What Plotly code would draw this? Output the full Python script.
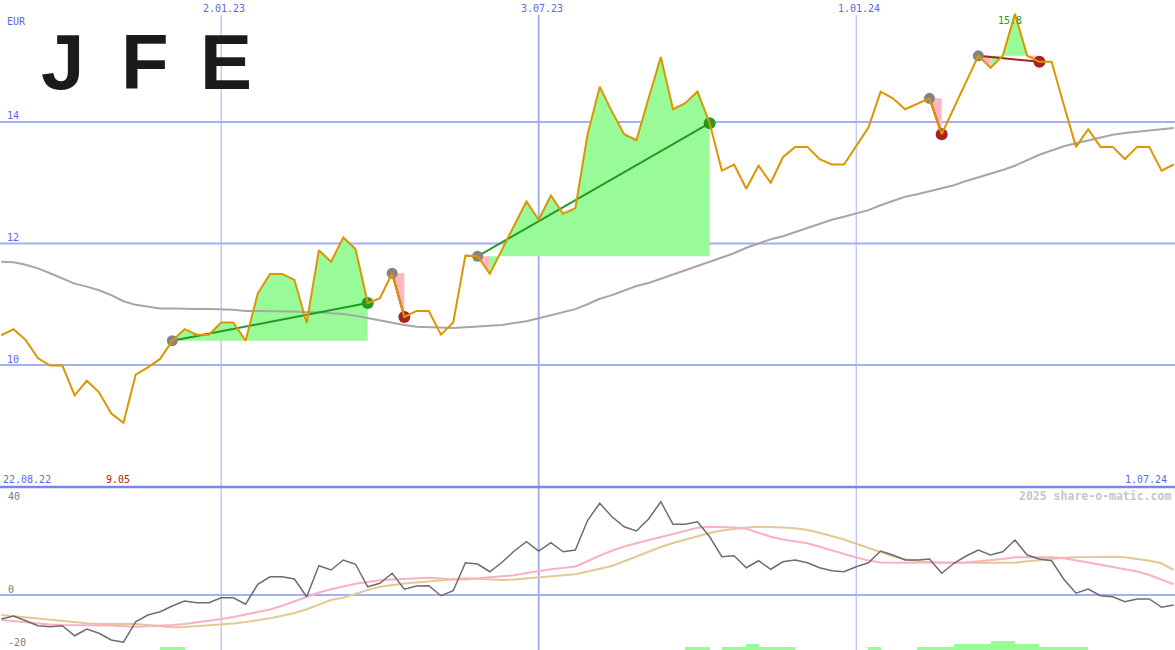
import plotly.graph_objects as go
import pandas as pd

# ---------------- data (weekly closes, EUR) ----------------
start_date = "2022-08-29"
n_weeks = 97

price = [10.49, 10.59, 10.41, 10.11, 9.99, 9.99, 9.50, 9.74, 9.55, 9.20,
         9.05, 9.84, 9.96, 10.10, 10.40, 10.59, 10.50, 10.50, 10.70, 10.70,
         10.40, 11.18, 11.50, 11.50, 11.40, 10.69, 11.89, 11.70, 12.10, 11.91,
         11.02, 11.10, 11.51, 10.79, 10.89, 10.89, 10.50, 10.70, 11.80, 11.79,
         11.50, 11.91, 12.30, 12.69, 12.39, 12.79, 12.49, 12.58, 13.79, 14.58,
         14.17, 13.80, 13.70, 14.39, 15.07, 14.21, 14.31, 14.50, 13.98, 13.20,
         13.30, 12.90, 13.28, 13.00, 13.42, 13.59, 13.59, 13.39, 13.30, 13.30,
         13.60, 13.91, 14.50, 14.39, 14.21, 14.30, 14.39, 13.80, 14.24, 14.67,
         15.09, 14.89, 15.09, 15.78, 15.09, 14.99, 14.99, 14.28, 13.59, 13.88,
         13.59, 13.59, 13.39, 13.59, 13.59, 13.20, 13.30]

moving_avg = [11.70, 11.69, 11.65, 11.59, 11.51, 11.42, 11.34, 11.29, 11.23, 11.15,
              11.05, 10.99, 10.96, 10.93, 10.93, 10.92, 10.92, 10.92, 10.92, 10.91,
              10.89, 10.89, 10.88, 10.88, 10.88, 10.87, 10.87, 10.85, 10.84, 10.81,
              10.77, 10.73, 10.69, 10.66, 10.63, 10.62, 10.61, 10.61, 10.62, 10.63,
              10.64, 10.66, 10.69, 10.72, 10.77, 10.82, 10.87, 10.92, 11.00, 11.09,
              11.15, 11.22, 11.30, 11.35, 11.42, 11.50, 11.56, 11.63, 11.70, 11.78,
              11.84, 11.93, 12.00, 12.07, 12.12, 12.19, 12.26, 12.32, 12.39, 12.44,
              12.49, 12.55, 12.63, 12.70, 12.77, 12.81, 12.86, 12.91, 12.96, 13.03,
              13.09, 13.14, 13.21, 13.28, 13.37, 13.46, 13.53, 13.60, 13.65, 13.70,
              13.75, 13.79, 13.82, 13.84, 13.87, 13.88, 13.90]

momentum = [-9.6, -8.4, -10.3, -12.3, -12.7, -12.3, -16.3, -13.6, -15.3, -18.0,
            -18.9, -10.7, -8.0, -6.7, -4.4, -2.4, -3.1, -3.1, -1.1, -1.1,
            -3.7, 4.3, 7.3, 7.3, 6.4, -0.7, 11.7, 10.0, 14.0, 12.3,
            3.3, 4.7, 8.7, 2.3, 3.6, 3.7, -0.3, 1.7, 12.9, 12.4,
            9.3, 13.1, 17.6, 21.3, 17.6, 20.9, 17.3, 18.0, 29.8, 36.7,
            31.3, 27.3, 25.6, 30.4, 37.3, 28.3, 28.3, 29.3, 23.3, 15.3,
            15.7, 10.9, 13.7, 10.3, 13.3, 14.0, 12.9, 10.9, 9.7, 9.3,
            11.3, 12.9, 17.6, 16.0, 14.0, 14.0, 14.4, 8.7, 12.7, 15.6,
            18.0, 16.0, 17.3, 22.0, 16.0, 14.4, 13.7, 6.3, 0.7, 2.4,
            -0.3, -0.7, -2.7, -1.6, -1.6, -4.9, -4.0]

momentum_fast = [-10.0, -10.5, -11.0, -11.6, -11.8, -12.0, -12.0, -12.0, -12.0, -12.2,
                 -12.5, -12.7, -12.5, -12.3, -12.0, -11.6, -11.0, -10.3, -9.6, -8.8,
                 -7.9, -6.9, -5.8, -4.3, -2.5, -0.6, 1.0, 2.3, 3.5, 4.5,
                 5.2, 5.9, 6.2, 6.5, 6.8, 6.9, 6.6, 6.2, 6.2, 6.6,
                 7.0, 7.4, 7.9, 8.8, 9.7, 10.3, 10.8, 11.4, 13.5, 15.8,
                 17.7, 19.4, 20.7, 22.0, 23.2, 24.5, 25.9, 26.9, 27.3, 27.2,
                 27.0, 26.5, 25.0, 23.3, 22.2, 21.5, 20.7, 19.3, 17.9, 16.2,
                 15.0, 13.8, 13.0, 12.9, 12.9, 12.9, 12.9, 12.9, 12.9, 13.1,
                 13.5, 13.8, 14.4, 15.1, 15.1, 15.1, 15.1, 14.7, 14.0, 13.0,
                 12.1, 11.2, 10.3, 9.4, 8.0, 6.2, 4.3]

momentum_slow = [-8.0, -8.5, -8.9, -9.3, -9.8, -10.3, -10.8, -11.3, -11.6, -11.6,
                 -11.6, -11.6, -12.0, -12.5, -12.9, -12.8, -12.5, -12.2, -12.0, -11.4,
                 -10.8, -10.1, -9.3, -8.3, -7.2, -5.7, -3.8, -2.0, -1.1, 0.5,
                 2.0, 3.3, 4.1, 4.6, 5.0, 5.4, 5.9, 6.4, 6.7, 6.5,
                 6.2, 6.0, 6.2, 6.6, 7.1, 7.5, 7.9, 8.3, 9.4, 10.6,
                 11.6, 13.5, 15.5, 17.5, 19.2, 20.8, 22.2, 23.6, 24.8, 25.8,
                 26.5, 27.0, 27.3, 27.3, 27.0, 26.7, 26.0, 24.9, 23.6, 22.2,
                 20.5, 18.8, 17.0, 15.5, 14.3, 13.6, 13.1, 12.9, 12.9, 12.9,
                 12.9, 12.9, 12.9, 12.9, 13.5, 14.0, 14.5, 14.9, 15.1, 15.2,
                 15.3, 15.3, 15.1, 14.5, 13.7, 12.7, 10.0]

signal_level = ([0] * 13 + [1, 1] + [0] * 41 + [1, 1] + [0] + [1, 1, 2, 1, 1, 1]
                + [0] * 6 + [1] + [0] * 3
                + [1, 1, 1, 2, 2, 2, 3, 3, 2, 2, 1, 1, 1, 1] + [0] * 8)

# trades: (entry week index, exit week index)
trades = [(14, 30), (32, 33), (39, 58), (76, 77), (80, 85)]

date_ticks = ["2023-01-02", "2023-07-03", "2024-01-01"]
date_tick_labels = ["2.01.23", "3.07.23", "1.01.24"]
date_tick_widths = [1, 2, 1]
price_grid = [10, 12, 14]
first_label, last_label = "22.08.22", "1.07.24"

# ---------------- styling ----------------
W, H = 1175, 650
SEP = 487                       # pixel row of the panel separator
ORANGE = "#db9600"
GREEN_FILL = "#98fb98"
PINK_FILL = "#ffb6c1"
GRID = "#a3b0f2"
BLUE_TXT = "#5b68e6"
WIN = "#229a22"
LOSS = "#a82222"
BAR_UNIT = 1.15

dates = pd.date_range(start_date, periods=n_weeks, freq="7D")
week = pd.Timedelta(days=7)


def px(x):
    return x / W


def py(y):
    return 1 - y / H


fig = go.Figure()

# ---------- trade fills ----------
green_x, green_y, pink_x, pink_y = [], [], [], []
for s, e in trades:
    lvl = price[s]
    pieces = []
    for k in range(s, e):
        xa, xb, pa, pb = dates[k], dates[k + 1], price[k], price[k + 1]
        if (pa - lvl) * (pb - lvl) < 0:
            t = (lvl - pa) / (pb - pa)
            xm = xa + (xb - xa) * t
            pieces += [(xa, pa, xm, lvl), (xm, lvl, xb, pb)]
        else:
            pieces.append((xa, pa, xb, pb))
    runs = []
    for (x0, p0, x1, p1) in pieces:
        above = (p0 + p1) / 2 >= lvl
        col = "g" if (above or p1 >= p0) else "p"
        if runs and runs[-1][0] == col:
            runs[-1][1].append((x1, p1))
        else:
            runs.append([col, [(x0, p0), (x1, p1)]])
    for col, pts in runs:
        xs = [pts[0][0]] + [p[0] for p in pts] + [pts[-1][0], pts[0][0], None]
        ys = [lvl] + [p[1] for p in pts] + [lvl, lvl, None]
        if col == "g":
            green_x += xs
            green_y += ys
        else:
            pink_x += xs
            pink_y += ys

fig.add_trace(go.Scatter(x=green_x, y=green_y, mode="lines", fill="toself",
                         fillcolor=GREEN_FILL, line=dict(width=0),
                         hoverinfo="skip", showlegend=False))
fig.add_trace(go.Scatter(x=pink_x, y=pink_y, mode="lines", fill="toself",
                         fillcolor=PINK_FILL, line=dict(width=0),
                         hoverinfo="skip", showlegend=False))

# moving average
fig.add_trace(go.Scatter(x=dates, y=moving_avg, mode="lines",
                         line=dict(color="#a6a6a6", width=2), showlegend=False))

# trade connection lines
for s, e in trades:
    col = WIN if price[e] > price[s] else LOSS
    fig.add_trace(go.Scatter(x=[dates[s], dates[e]], y=[price[s], price[e]],
                             mode="lines", line=dict(color=col, width=2),
                             showlegend=False))

# markers
ent = [s for s, e in trades]
wins = [e for s, e in trades if price[e] > price[s]]
losses = [e for s, e in trades if price[e] <= price[s]]
fig.add_trace(go.Scatter(x=[dates[i] for i in ent], y=[price[i] for i in ent],
                         mode="markers", marker=dict(color="#848484", size=11),
                         showlegend=False))
fig.add_trace(go.Scatter(x=[dates[i] for i in wins], y=[price[i] for i in wins],
                         mode="markers", marker=dict(color=WIN, size=12),
                         showlegend=False))
fig.add_trace(go.Scatter(x=[dates[i] for i in losses], y=[price[i] for i in losses],
                         mode="markers", marker=dict(color=LOSS, size=12),
                         showlegend=False))

# price line
fig.add_trace(go.Scatter(x=dates, y=price, mode="lines",
                         line=dict(color=ORANGE, width=2), showlegend=False))

# ---------- lower panel ----------
fig.add_trace(go.Bar(x=dates + week / 2, y=[l * BAR_UNIT for l in signal_level],
                     base=-22, width=7 * 86400000, marker=dict(color=GREEN_FILL, line=dict(width=0)),
                     yaxis="y2", showlegend=False))
fig.add_trace(go.Scatter(x=dates, y=momentum_slow, mode="lines", yaxis="y2",
                         line=dict(color="#e3c995", width=2), showlegend=False))
fig.add_trace(go.Scatter(x=dates, y=momentum_fast, mode="lines", yaxis="y2",
                         line=dict(color="#fbb1c3", width=2), showlegend=False))
fig.add_trace(go.Scatter(x=dates, y=momentum, mode="lines", yaxis="y2",
                         line=dict(color="#6d6d6d", width=1.5), showlegend=False))

# ---------- shapes ----------
shapes = []
for g in price_grid:
    shapes.append(dict(type="line", xref="paper", yref="y", x0=0, x1=1, y0=g, y1=g,
                       line=dict(color=GRID, width=2), layer="below"))
shapes.append(dict(type="line", xref="paper", yref="y2", x0=0, x1=1, y0=0, y1=0,
                   line=dict(color=GRID, width=2), layer="below"))
for d, wdt in zip(date_ticks, date_tick_widths):
    shapes.append(dict(type="line", xref="x", yref="paper", x0=d, x1=d,
                       y0=0, y1=py(15), line=dict(color=GRID, width=wdt), layer="below"))
shapes.append(dict(type="line", xref="paper", yref="paper", x0=0, x1=1,
                   y0=py(SEP), y1=py(SEP), line=dict(color="#7787ea", width=2.5)))

# ---------- annotations ----------
MONO = "DejaVu Sans Mono"
ann = []


def label(text, x, y, color, size=10, xanchor="left", family=MONO, xref="paper", yref="paper"):
    ann.append(dict(text=text, x=x, y=y, xref=xref, yref=yref, showarrow=False,
                    xanchor=xanchor, yanchor="middle",
                    font=dict(family=family, size=size, color=color)))


label("EUR", px(4.5), py(21.5), BLUE_TXT)
for g in price_grid:
    ann.append(dict(text=str(g), x=px(4.5), y=g, xref="paper", yref="y", yshift=6,
                    showarrow=False, xanchor="left", yanchor="middle",
                    font=dict(family=MONO, size=10, color=BLUE_TXT)))
for d, t in zip(date_ticks, date_tick_labels):
    ann.append(dict(text=t, x=d, y=py(8.5), xref="x", yref="paper", xshift=3,
                    showarrow=False, xanchor="center", yanchor="middle",
                    font=dict(family=MONO, size=10, color=BLUE_TXT)))
label(first_label, px(1), py(479), BLUE_TXT)
label(last_label, px(1169), py(479), BLUE_TXT, xanchor="right")

imax = price.index(max(price))
imin = price.index(min(price))
ann.append(dict(text=f"{max(price):.1f}", x=dates[imax], y=py(21), xref="x", yref="paper",
                xshift=-5, showarrow=False, xanchor="center", yanchor="middle",
                font=dict(family=MONO, size=10, color=WIN)))
ann.append(dict(text=f"{min(price):.2f}", x=dates[imin], y=py(479), xref="x", yref="paper",
                xshift=-5, showarrow=False, xanchor="center", yanchor="middle",
                font=dict(family=MONO, size=10, color=LOSS)))

label("40", px(5.5), py(496.5), "#7a7a7a")
label("0", px(5.5), py(589), "#7a7a7a")
label("-20", px(5.5), py(642), "#7a7a7a")
ann.append(dict(text="<b>2025 share-o-matic.com</b>", x=px(1173), y=py(495.5),
                xref="paper", yref="paper", showarrow=False, xanchor="right",
                yanchor="middle", font=dict(family=MONO, size=11.5, color="#c6c6c6")))

# logo
for ch, cx in zip("JFE", [62, 145, 226]):
    ann.append(dict(text=f"<b>{ch}</b>", x=px(cx), y=py(62), xref="paper", yref="paper",
                    showarrow=False, xanchor="center", yanchor="middle",
                    font=dict(family="Liberation Sans", size=78, color="#1b1b1b")))

fig.update_layout(
    width=W, height=H, margin=dict(l=0, r=0, t=0, b=0),
    paper_bgcolor="white", plot_bgcolor="white",
    xaxis=dict(type="date", range=["2022-08-28 05:30", "2024-07-01 17:30"],
               visible=False, fixedrange=True),
    yaxis=dict(domain=[py(SEP), 1], range=[7.992, 16.008], visible=False),
    yaxis2=dict(domain=[0, py(SEP)], range=[-22, 43.2], visible=False, anchor="x"),
    shapes=shapes, annotations=ann, bargap=0, showlegend=False,
)

fig.write_html("out.html", config={"displayModeBar": False, "staticPlot": True},
               post_script="document.body.style.margin='0';document.body.style.overflow='hidden';")
